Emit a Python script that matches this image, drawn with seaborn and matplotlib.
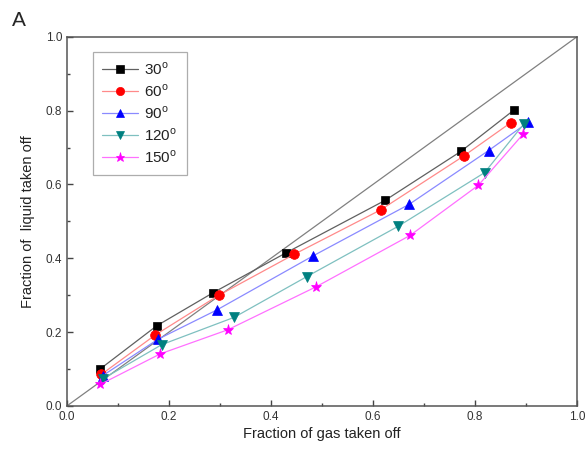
import numpy as np
import pandas as pd
import matplotlib
matplotlib.use('Agg')
import matplotlib.pyplot as plt
import seaborn as sns
from matplotlib.ticker import MultipleLocator

sns.set_style('ticks')
plt.rcParams['font.family'] = ['Liberation Sans', 'DejaVu Sans']
plt.rcParams['mathtext.fontset'] = 'custom'
plt.rcParams['mathtext.rm'] = 'Liberation Sans'

# data
labels = ['30$^{\\mathrm{o}}$', '60$^{\\mathrm{o}}$', '90$^{\\mathrm{o}}$', '120$^{\\mathrm{o}}$', '150$^{\\mathrm{o}}$']
gas_30 = [0.065, 0.176, 0.287, 0.430, 0.624, 0.773, 0.876]
liq_30 = [0.100, 0.217, 0.307, 0.415, 0.557, 0.690, 0.801]
gas_60 = [0.067, 0.173, 0.298, 0.446, 0.615, 0.778, 0.870]
liq_60 = [0.085, 0.192, 0.300, 0.411, 0.531, 0.677, 0.767]
gas_90 = [0.070, 0.179, 0.294, 0.482, 0.671, 0.827, 0.905]
liq_90 = [0.082, 0.181, 0.260, 0.406, 0.546, 0.692, 0.769]
gas_120 = [0.070, 0.186, 0.328, 0.470, 0.650, 0.819, 0.896]
liq_120 = [0.073, 0.166, 0.240, 0.350, 0.487, 0.632, 0.764]
gas_150 = [0.065, 0.183, 0.315, 0.489, 0.673, 0.807, 0.895]
liq_150 = [0.058, 0.141, 0.206, 0.323, 0.462, 0.598, 0.737]
diag_x = [0.0, 1.0]
diag_y = [0.0, 1.0]

series = [(gas_30, liq_30), (gas_60, liq_60), (gas_90, liq_90), (gas_120, liq_120), (gas_150, liq_150)]
marker_colors = ['black', 'red', 'blue', '#008080', '#ff00ff']
line_colors = ['#606060', '#ff8a8a', '#8a8aff', '#7fc0c0', '#ff70ff']
markers = ['s', 'o', '^', 'v', '*']
sizes = [6, 7, 7, 7, 8]

fig = plt.figure(figsize=(5.88, 4.55), dpi=100)
ax = fig.add_axes([0.114, 0.108, 0.867, 0.811])

sns.lineplot(x=diag_x, y=diag_y, ax=ax, color='#808080', linewidth=0.9)

for (gx, ly), lab, mc, lc, mk, ms in zip(series, labels, marker_colors, line_colors, markers, sizes):
    df = pd.DataFrame({'gas': gx, 'liquid': ly})
    sns.lineplot(data=df, x='gas', y='liquid', ax=ax, sort=False, color=lc, linewidth=0.9,
                 marker=mk, markersize=ms, markerfacecolor=mc, markeredgecolor=mc,
                 markeredgewidth=0.5, label=lab)

ax.set_xlim(0, 1)
ax.set_ylim(0, 1)
ax.xaxis.set_major_locator(MultipleLocator(0.2))
ax.yaxis.set_major_locator(MultipleLocator(0.2))
ax.xaxis.set_minor_locator(MultipleLocator(0.1))
ax.yaxis.set_minor_locator(MultipleLocator(0.1))
ax.xaxis.set_major_formatter(plt.FormatStrFormatter('%.1f'))
ax.yaxis.set_major_formatter(plt.FormatStrFormatter('%.1f'))
ax.tick_params(which='both', direction='in', color='#444444', labelcolor='#333333', labelsize=8.5,
               bottom=True, left=True, top=False, right=False, width=1)
ax.tick_params(which='major', length=4)
ax.tick_params(which='minor', length=2.5)
for s in ax.spines.values():
    s.set_visible(True)
    s.set_color('#555555')
    s.set_linewidth(1.1)

ax.set_xlabel('Fraction of gas taken off', fontsize=10.5, color='#222222', labelpad=3)
ax.set_ylabel('Fraction of  liquid taken off', fontsize=10.5, color='#222222', labelpad=8)

leg = ax.legend(loc='upper left', bbox_to_anchor=(0.05, 0.96), borderaxespad=0, fancybox=False,
                fontsize=11, handlelength=2.4, labelspacing=0.35, borderpad=0.6, handletextpad=0.4,
                markerscale=0.85)
leg.get_frame().set_edgecolor('#999999')
leg.get_frame().set_linewidth(0.9)
for t in leg.get_texts():
    t.set_color('#222222')

fig.text(0.02, 0.975, 'A', fontsize=15, va='top', ha='left')

fig.savefig('out.png', dpi=100)
